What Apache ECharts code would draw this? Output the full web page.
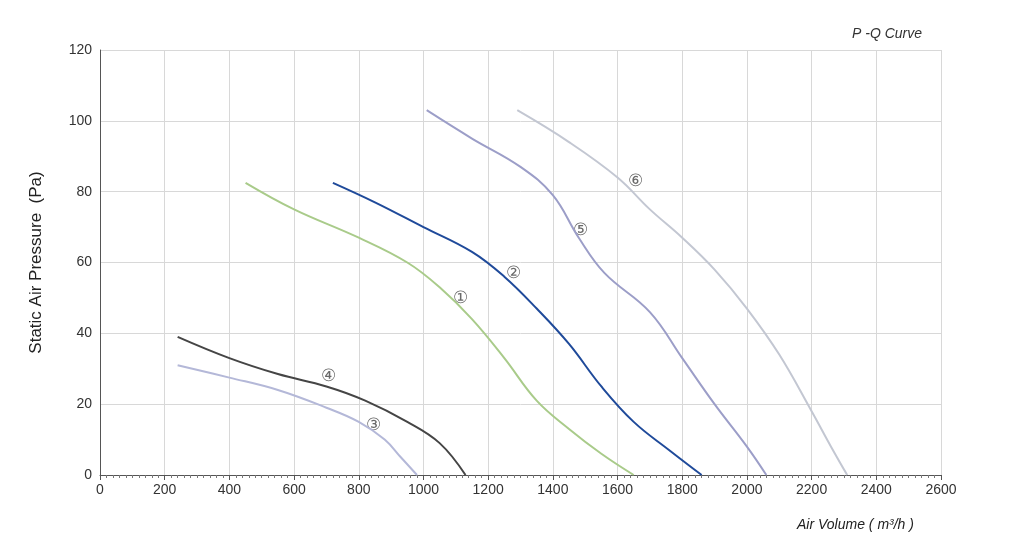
<!DOCTYPE html>
<html><head><meta charset="utf-8">
<script src="https://cdn.jsdelivr.net/npm/echarts@6/dist/echarts.min.js"></script>
<style>html,body{margin:0;background:#fff}#c{width:1024px;height:560px}</style>
</head><body><div id="c"></div>
<script>
// curve data [air volume, static pressure]
var curve1 = [[450,82.5],[600,75],[800,67],[950,60],[1050,53],[1150,44],[1250,33],[1350,21],[1450,13],[1550,6],[1650,0]];
var curve2 = [[720,82.5],[850,77],[1000,70],[1150,63],[1250,56],[1350,47],[1450,37],[1550,25],[1650,15],[1760,7],[1860,0]];
var curve3 = [[240,31],[400,27.5],[550,24],[700,19],[800,15],[880,10],[930,5],[980,0]];
var curve4 = [[240,39],[400,33],[550,28.5],[700,25],[820,21],[950,15],[1050,9],[1130,0]];
var curve5 = [[1010,103],[1150,95],[1300,87],[1400,79],[1480,67],[1560,57],[1700,46],[1800,33],[1900,20],[2000,8],[2060,0]];
var curve6 = [[1290,103],[1450,94],[1600,84],[1700,75],[1800,67],[1900,58],[2000,47],[2100,34],[2200,18],[2260,8],[2310,0]];
var labels = [['①',1113,50],['②',1277,57],['③',847,14],['④',705,28],['⑤',1484,69],['⑥',1657,83]];

var chart = echarts.init(document.getElementById('c'));
function line(d, color, w) {
    return {type: 'line', data: d, smooth: 0.4, symbol: 'none', lineStyle: {color: color, width: w}};
}
var series = [
    line(curve1, '#a9cb8a', 2),
    line(curve2, '#1f4a9a', 2),
    line(curve3, '#b4b8d8', 2),
    line(curve4, '#454545', 2),
    line(curve5, '#9c9ec8', 2),
    line(curve6, '#c3c7d2', 2),
    {type: 'scatter', symbolSize: 0, data: labels.map(function (l) { return {value: [l[1], l[2]], name: l[0]}; }),
        label: {show: true, formatter: '{b}', color: '#444', fontSize: 17, position: 'inside'}}
];
chart.setOption({
    animation: false,
    grid: {left: 100, right: 83, top: 50, bottom: 85},
    title: {text: 'P -Q Curve', right: 97, top: 22, textStyle: {fontSize: 14, fontStyle: 'italic', fontWeight: 'normal', color: '#333', fontFamily: 'Liberation Sans'}},
    graphic: [{type: 'text', left: 797, top: 518, style: {text: 'Air Volume ( m³/h )', fontSize: 14, fontStyle: 'italic', fill: '#222', fontFamily: 'Liberation Sans'}}],
    xAxis: {type: 'value', min: 0, max: 2600, interval: 200,
        axisLine: {lineStyle: {color: '#555'}}, axisTick: {show: true, length: 5, lineStyle: {color: '#555'}},
        minorTick: {show: true, splitNumber: 10, length: 3, lineStyle: {color: '#777'}},
        axisLabel: {color: '#333', fontSize: 14, fontFamily: 'Liberation Sans', formatter: function (v) { return String(v); }},
        splitLine: {lineStyle: {color: '#d8d8d8'}}},
    yAxis: {type: 'value', min: 0, max: 120, interval: 20,
        name: 'Static Air Pressure  (Pa)', nameLocation: 'middle', nameGap: 55,
        nameTextStyle: {fontSize: 17, color: '#222', fontFamily: 'Liberation Sans'},
        axisLine: {show: true, lineStyle: {color: '#555'}}, axisTick: {show: false},
        axisLabel: {color: '#333', fontSize: 14, fontFamily: 'Liberation Sans'},
        splitLine: {lineStyle: {color: '#d8d8d8'}}},
    series: series
});
</script></body></html>
